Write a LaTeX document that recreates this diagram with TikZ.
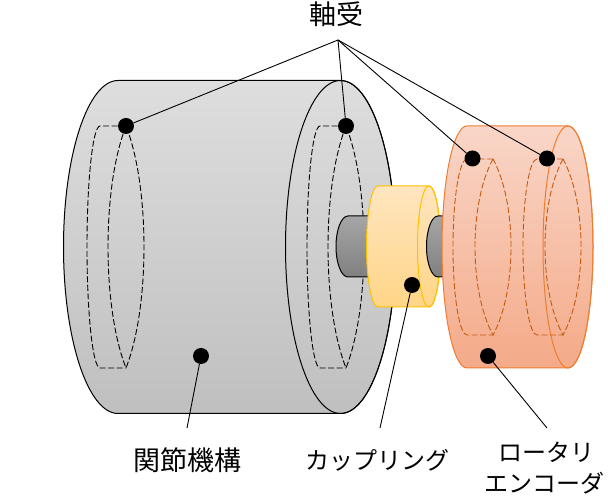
\documentclass[tikz,border=0pt]{standalone}
\usepackage{fontspec}
\setmainfont{Noto Sans CJK JP}
\usetikzlibrary{positioning}

\begin{document}
\begin{tikzpicture}[
		x=1pt, y=1pt,
		graybody/.style = {draw=black, line width=1pt, top color=black!13, bottom color=black!25},
		shaft/.style = {draw=black, line width=1pt, top color=black!35, bottom color=black!50},
		yellowbody/.style = {draw=yellowline, line width=1pt, top color=yellowtop, bottom color=yellowbot},
		orangebody/.style = {draw=orangeline, line width=1pt, top color=orangetop, bottom color=orangebot},
		hidden/.style = {dash pattern=on 6pt off 2.5pt, line width=0.9pt},
		dot/.style = {circle, fill=black, minimum size=16pt, inner sep=0pt},
		leader/.style = {draw, line width=0.9pt},
		label/.style = {font=\fontsize{27}{29}\selectfont, inner sep=0pt},
		kanalabel/.style = {font=\fontsize{24}{26}\selectfont, inner sep=0pt}
		]
		\definecolor{yellowline}{HTML}{FFC000}
		\definecolor{yellowtop}{HTML}{FFE6C0}
		\definecolor{yellowbot}{HTML}{FFD587}
		\definecolor{orangeline}{HTML}{ED7D31}
		\definecolor{orangetop}{HTML}{F9D6C8}
		\definecolor{orangebot}{HTML}{F4AA88}
		\definecolor{orangedash}{HTML}{C55A11}
		\useasboundingbox (0,0) rectangle (608,500);
		
		% Joint body
		\path[graybody] (118,419.5) -- (340.5,419.5) arc[start angle=90, end angle=-90, x radius=55, y radius=166.5]
			-- (118,86.5) arc[start angle=270, end angle=90, x radius=54.5, y radius=166.5] -- cycle;
		\draw[line width=1pt] (340.5,253) ellipse [x radius=55, y radius=166.5];
		\foreach \cx in {126,346} {
			\draw[hidden] (\cx,374) -- (\cx-26,374) arc[start angle=90, end angle=270, x radius=13, y radius=121] -- (\cx,132);
			\draw[hidden] (\cx,374) .. controls (\cx-24,313) and (\cx-24,193) .. (\cx,132)
				.. controls (\cx+24,193) and (\cx+24,313) .. (\cx,374);
		}
		
		% Shafts and coupling
		\path[shaft] (390,284) -- (348,284) arc[start angle=90, end angle=270, x radius=12, y radius=30.5] -- (390,223);
		\path[yellowbody] (378,314) -- (429,314) arc[start angle=90, end angle=-90, x radius=11.5, y radius=60.5]
			-- (378,193) arc[start angle=270, end angle=90, x radius=11.5, y radius=60.5] -- cycle;
		\draw[yellowline, line width=1pt] (429,253.5) ellipse [x radius=11.5, y radius=60.5];
		\path[shaft] (455,284) -- (438,284) arc[start angle=90, end angle=270, x radius=11.5, y radius=30.5] -- (455,223);
		
		% Encoder body
		\path[orangebody] (467,374) -- (568,374) arc[start angle=90, end angle=-90, x radius=25, y radius=121]
			-- (467,132) arc[start angle=270, end angle=90, x radius=25, y radius=121] -- cycle;
		\draw[orangeline, line width=1pt] (568,253) ellipse [x radius=25, y radius=121];
		\foreach \cx in {493,563} {
			\draw[hidden, orangedash] (\cx,341) -- (\cx-26,341) arc[start angle=90, end angle=270, x radius=14, y radius=88] -- (\cx,165);
			\draw[hidden, orangedash] (\cx,341) .. controls (\cx-24,297) and (\cx-24,209) .. (\cx,165)
				.. controls (\cx+24,209) and (\cx+24,297) .. (\cx,341);
		}
		
		% Dots
		\node[dot] (bearingA) at (126,374) {};
		\node[dot] (bearingB) at (346,374) {};
		\node[dot] (bearingC) at (472.5,341.5) {};
		\node[dot] (bearingD) at (547,341.5) {};
		\node[dot] (joint) at (201,144) {};
		\node[dot] (coupling) at (412,215) {};
		\node[dot] (encoder) at (488,144) {};
		
		% Labels
		\node[label] (bearingLabel) at (336,486) {軸受};
		\node[label] (jointLabel) at (187.5,40) {関節機構};
		\node[kanalabel] (couplingLabel) at (377.5,40) {カップリング};
		\node[kanalabel] (encoderLabel) at (546,48) {ロータリ};
		\node[kanalabel] (encoderLabelB) at (544,17) {エンコーダ};
		
		% Free ends
		\coordinate (hub) at (338,460);
		\coordinate (jointEnd) at (187,72);
		\coordinate (couplingEnd) at (380,72);
		\coordinate (encoderEnd) at (547,72);
		
		% Leaders
		\foreach \b in {bearingA,bearingB,bearingC,bearingD}
			\draw[leader] (hub) -- (\b);
		\draw[leader] (joint) -- (jointEnd);
		\draw[leader] (coupling) -- (couplingEnd);
		\draw[leader] (encoder) -- (encoderEnd);
		
	\end{tikzpicture}
\end{document}
